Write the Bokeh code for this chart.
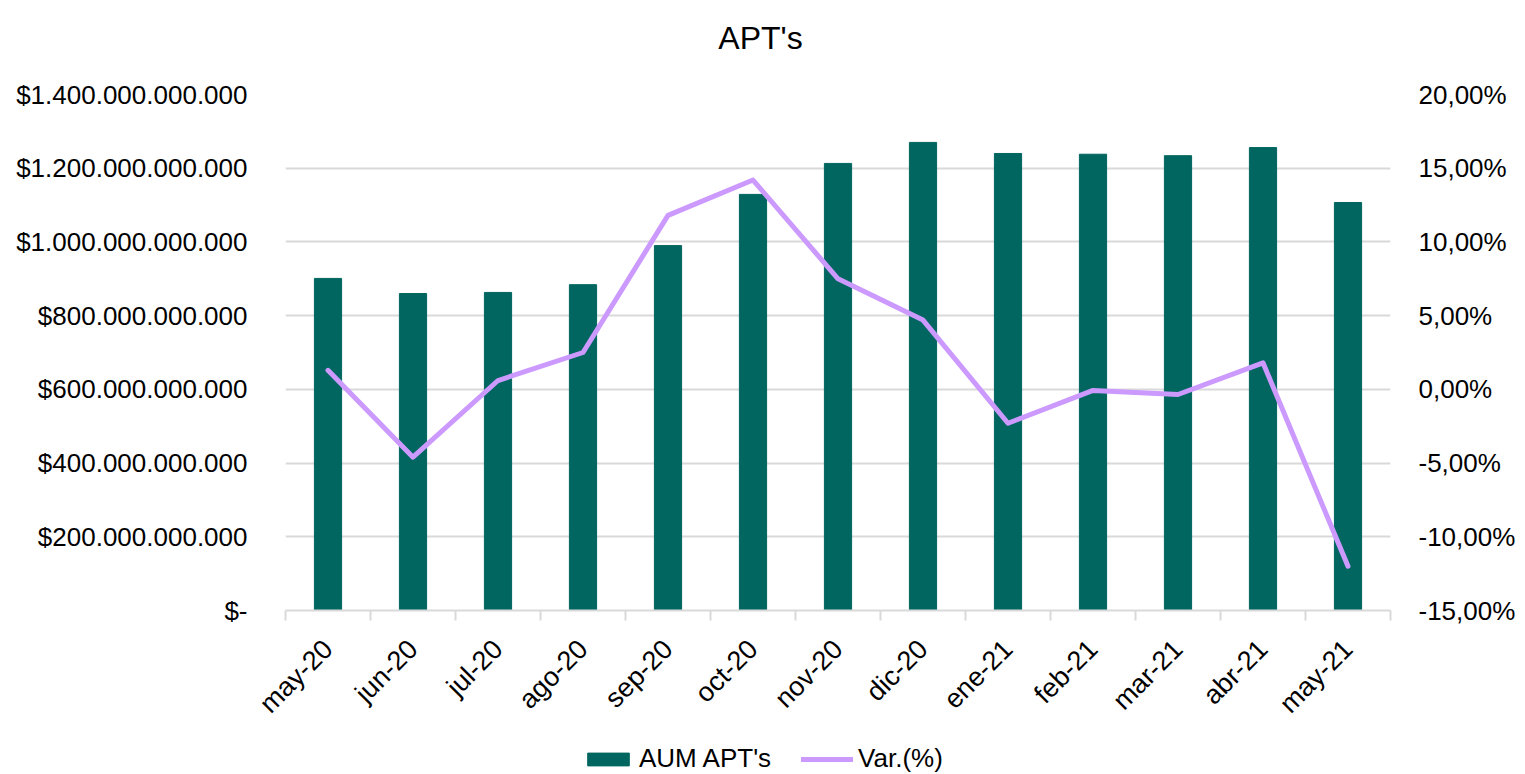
import numpy as np
from bokeh.plotting import figure
from bokeh.layouts import column
from bokeh.models import Range1d, LinearAxis, FixedTicker, Legend, LegendItem, Label
from bokeh.embed import file_html
from bokeh.resources import INLINE

months = ["may-20", "jun-20", "jul-20", "ago-20", "sep-20", "oct-20", "nov-20",
          "dic-20", "ene-21", "feb-21", "mar-21", "abr-21", "may-21"]
aum = [901e9, 860e9, 863e9, 884e9, 990e9, 1129e9, 1213e9,
       1270e9, 1240e9, 1238e9, 1234e9, 1256e9, 1107e9]
var_pct = [0.0129, -0.0460, 0.0060, 0.0250, 0.1180, 0.1420, 0.0750,
           0.0470, -0.0230, -0.0007, -0.0035, 0.0180, -0.1200]
left_ticks = [0, 200e9, 400e9, 600e9, 800e9, 1000e9, 1200e9, 1400e9]
right_ticks = [-0.15, -0.10, -0.05, 0.0, 0.05, 0.10, 0.15, 0.20]
series_names = ["AUM APT's", "Var.(%)"]
chart_title = "APT's"

FONT = "Liberation Sans"
BAR = "#00665F"
LINE = "#CC99FF"
GRID = "#D9D9D9"
W = 1525
BL, BR = 285, 135

x = np.arange(len(months)) + 0.5
bounds = list(np.arange(len(months) + 1).astype(float))

def strip(h):
    f = figure(width=W, height=h, output_backend="svg", toolbar_location=None,
               x_axis_type=None, y_axis_type=None,
               min_border_left=BL, min_border_right=BR,
               min_border_top=0, min_border_bottom=0,
               x_range=Range1d(0, 1), y_range=Range1d(0, 1))
    f.outline_line_color = None
    f.xgrid.visible = False
    f.ygrid.visible = False
    return f

# title strip
hd = strip(60)
hd.add_layout(Label(x=760 - BL, y=23, x_units="screen", y_units="screen",
                    text=chart_title, text_align="center", text_baseline="middle",
                    text_font=FONT, text_font_size="32px", text_color="black"))

# main chart
p = figure(width=W, height=680, output_backend="svg", toolbar_location=None,
           x_range=Range1d(0, len(months)), y_range=Range1d(0, 1.4e12),
           min_border_left=BL, min_border_right=BR, min_border_top=34,
           min_border_bottom=130)
p.outline_line_color = None
p.background_fill_color = "white"
p.extra_y_ranges = {"pct": Range1d(-0.15, 0.20)}

bar_style = dict(fill_color=BAR, line_color=BAR)
line_style = dict(line_color=LINE, line_width=5, line_cap="round", line_join="round")

p.vbar(x=x, top=aum, width=0.32, **bar_style)
p.line(x=x, y=var_pct, y_range_name="pct", **line_style)

def fmt_money(v):
    if v == 0:
        return "$-"
    return "$" + f"{int(v):,}".replace(",", ".")

def fmt_pct(v):
    return f"{v*100:.2f}".replace(".", ",") + "%"

ya = p.yaxis[0]
ya.ticker = FixedTicker(ticks=left_ticks)
ya.major_label_overrides = {t: fmt_money(t) for t in left_ticks}
ya.axis_line_color = None
ya.major_tick_line_color = None
ya.major_tick_out = 0
ya.minor_tick_line_color = None
ya.minor_tick_out = 0
ya.major_label_standoff = 38
ya.major_label_text_font = FONT
ya.major_label_text_font_size = "26px"
ya.major_label_text_color = "black"

ra = LinearAxis(y_range_name="pct", ticker=FixedTicker(ticks=right_ticks))
ra.major_label_overrides = {t: fmt_pct(t) for t in right_ticks}
ra.axis_line_color = None
ra.major_tick_line_color = None
ra.major_tick_out = 0
ra.minor_tick_line_color = None
ra.minor_tick_out = 0
ra.major_label_standoff = 28
ra.major_label_text_font = FONT
ra.major_label_text_font_size = "26px"
ra.major_label_text_color = "black"
p.add_layout(ra, "right")

xa = p.xaxis[0]
xa.ticker = FixedTicker(ticks=list(x), minor_ticks=bounds)
xa.major_label_overrides = {float(v): m for v, m in zip(x, months)}
xa.major_label_orientation = np.pi / 4
xa.major_tick_line_color = None
xa.major_tick_out = 0
xa.minor_tick_line_color = GRID
xa.minor_tick_line_width = 2
xa.minor_tick_out = 10
xa.minor_tick_in = 0
xa.axis_line_color = GRID
xa.axis_line_width = 2
xa.major_label_standoff = 24
xa.major_label_text_font = FONT
xa.major_label_text_font_size = "27px"
xa.major_label_text_color = "black"

p.xgrid.grid_line_color = None
p.ygrid.ticker = FixedTicker(ticks=left_ticks)
p.ygrid.grid_line_color = GRID
p.ygrid.grid_line_width = 2

# legend strip
lg = strip(34)
proxy_bar = lg.vbar(x=x, top=aum, width=0.32, visible=False, **bar_style)
proxy_line = lg.line(x=x, y=var_pct, visible=False, **line_style)
legend = Legend(items=[LegendItem(label=series_names[0], renderers=[proxy_bar]),
                       LegendItem(label=series_names[1], renderers=[proxy_line])],
                orientation="horizontal", location=(582 - BL, 0),
                padding=0, margin=0, spacing=30, label_standoff=5,
                glyph_width=52, glyph_height=16,
                label_text_font=FONT, label_text_font_size="26px",
                label_text_color="black", inactive_fill_alpha=0,
                click_policy="none",
                border_line_color=None, background_fill_alpha=0)
lg.add_layout(legend, "center")

layout = column(hd, p, lg, spacing=0)
open("out.html", "w").write(file_html(layout, INLINE))
